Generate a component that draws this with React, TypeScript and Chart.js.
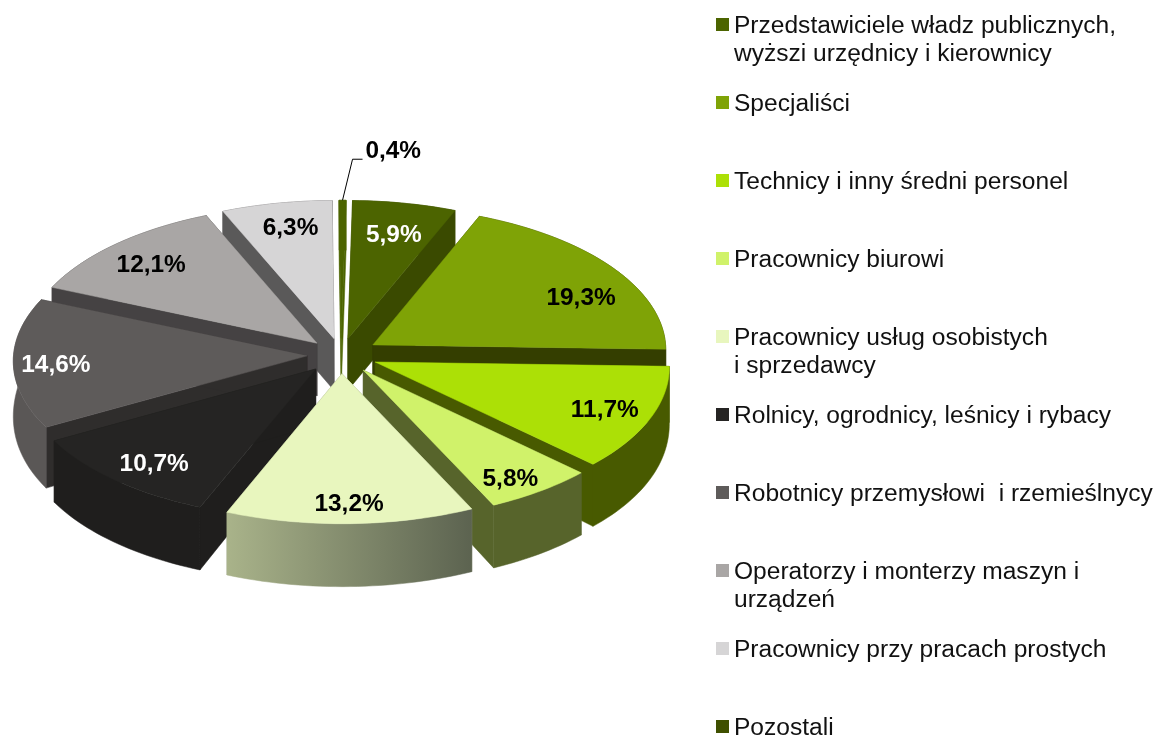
import React, { useEffect, useRef } from "react";
import { Chart, registerables } from "chart.js";

Chart.register(...registerables);

const CATEGORIES: string[][] = [
  ["Przedstawiciele władz publicznych,", "wyższi urzędnicy i kierownicy"],
  ["Specjaliści"],
  ["Technicy i inny średni personel"],
  ["Pracownicy biurowi"],
  ["Pracownicy usług osobistych", "i sprzedawcy"],
  ["Rolnicy, ogrodnicy, leśnicy i rybacy"],
  ["Robotnicy przemysłowi  i rzemieślnycy"],
  ["Operatorzy i monterzy maszyn i", "urządzeń"],
  ["Pracownicy przy pracach prostych"],
  ["Pozostali"],
];
// Clockwise from the top; the last slice (Pozostali) closes the circle.
const VALUES = [5.9, 19.3, 11.7, 5.8, 13.2, 10.7, 14.6, 12.1, 6.3, 0.4];
const TOP_COLORS = ["#4c6400", "#7fa306", "#ace006", "#d0f26a", "#e8f6be", "#252423", "#5e5b5a", "#a9a6a5", "#d6d5d6", "#4c6400"];
const LEGEND_COLORS = ["#4c6400", "#7fa306", "#ace006", "#d0f26a", "#e8f6be", "#252423", "#5e5b5a", "#a9a6a5", "#d6d5d6", "#3f5000"];
const RADIAL_WALLS = ["#3a4a00", "#343e00", "#485a00", "#57642b", "#8a9272", "#1f1e1d", "#2f2d2c", "#454243", "#5a5959", "#4c6400"];
const OUTER_WALLS_LEFT = ["#3a4a00", "#343e00", "#485a00", "#57642b", "#a9b38a", "#1f1e1d", "#5a5756", "#454243", "#5a5959", "#4c6400"];
const OUTER_WALLS_RIGHT = ["#3a4a00", "#343e00", "#485a00", "#57642b", "#5c6350", "#1f1e1d", "#5a5756", "#454243", "#5a5959", "#4c6400"];
const LABEL_COLORS = ["#fff", "#000", "#000", "#000", "#000", "#fff", "#fff", "#000", "#000", "#000"];
const EXPLODE = [34, 38, 37, 38, 38, 38, 34, 34, 34, 34];
const LABEL_NUDGE = [[3, -1], [27, 11], [24, 6], [15, 19], [1, 19], [-12, 12], [-31, 4], [-14, -3], [0, -8], [51, -83]];

const TILT = 0.49;
const PERSPECTIVE = 8900;

function project(cx: number, cy: number, X: number, Y: number) {
  const f = 1 / (1 - Y / PERSPECTIVE);
  return { x: cx + X * f, y: cy + TILT * Y * f };
}
function depthAt(Y: number) {
  return Math.max(50, 63.5 - 11.5 * Math.exp(-(Y + 30) / 120));
}

function poly(ctx: CanvasRenderingContext2D, pts: { x: number; y: number }[], fill: string | CanvasGradient) {
  ctx.beginPath();
  pts.forEach((p, i) => (i ? ctx.lineTo(p.x, p.y) : ctx.moveTo(p.x, p.y)));
  ctx.closePath();
  ctx.fillStyle = fill;
  ctx.fill();
  // seal antialiasing seams between neighbouring facets
  ctx.strokeStyle = fill;
  ctx.lineWidth = 0.5;
  ctx.stroke();
}

const pie3d = {
  id: "pie3d",
  beforeDatasetsDraw(chart: any) {
    const ctx: CanvasRenderingContext2D = chart.ctx;
    const arcs = chart.getDatasetMeta(0).data;
    const order = arcs
      .map((a: any, i: number) => ({ i, key: Math.sin((a.startAngle + a.endAngle) / 2) }))
      .sort((p: any, q: any) => p.key - q.key);
    ctx.save();
    for (const { i } of order) {
      const a = arcs[i];
      const mid = (a.startAngle + a.endAngle) / 2;
      const R = a.outerRadius;
      const ax = EXPLODE[i] * Math.cos(mid);
      const ay = EXPLODE[i] * Math.sin(mid);
      const top = (X: number, Y: number) => project(a.x, a.y, X, Y);
      const bot = (X: number, Y: number) => {
        const p = project(a.x, a.y, X, Y);
        return { x: p.x, y: p.y + depthAt(Y) };
      };
      const steps = Math.max(2, Math.ceil((a.endAngle - a.startAngle) * 40));
      const rim: { X: number; Y: number }[] = [];
      for (let s = 0; s <= steps; s++) {
        const t = a.startAngle + ((a.endAngle - a.startAngle) * s) / steps;
        rim.push({ X: ax + R * Math.cos(t), Y: ay + R * Math.sin(t) });
      }
      const first = rim[0];
      const last = rim[rim.length - 1];
      // radial walls
      poly(ctx, [top(ax, ay), bot(ax, ay), bot(first.X, first.Y), top(first.X, first.Y)], RADIAL_WALLS[i]);
      poly(ctx, [top(ax, ay), bot(ax, ay), bot(last.X, last.Y), top(last.X, last.Y)], RADIAL_WALLS[i]);
      // outer wall
      const upper = rim.map((p) => top(p.X, p.Y));
      const lower = rim.map((p) => bot(p.X, p.Y));
      const xs = upper.map((p) => p.x);
      const g = ctx.createLinearGradient(Math.min(...xs), 0, Math.max(...xs), 0);
      g.addColorStop(0, OUTER_WALLS_LEFT[i]);
      g.addColorStop(1, OUTER_WALLS_RIGHT[i]);
      poly(ctx, [...upper, ...lower.reverse()], g);
      // top face
      poly(ctx, [top(ax, ay), ...upper], TOP_COLORS[i]);
    }
    ctx.restore();
    return false;
  },
  afterDraw(chart: any) {
    const ctx: CanvasRenderingContext2D = chart.ctx;
    const arcs = chart.getDatasetMeta(0).data;
    ctx.save();
    // value labels
    ctx.font = 'bold 24.4px "Liberation Sans"';
    ctx.textAlign = "center";
    ctx.textBaseline = "middle";
    arcs.forEach((a: any, i: number) => {
      const mid = (a.startAngle + a.endAngle) / 2;
      const rad = EXPLODE[i] + a.outerRadius * 0.75;
      const p = project(a.x, a.y, rad * Math.cos(mid), rad * Math.sin(mid));
      ctx.fillStyle = LABEL_COLORS[i];
      ctx.fillText(VALUES[i].toFixed(1).replace(".", ",") + "%", p.x + LABEL_NUDGE[i][0], p.y + LABEL_NUDGE[i][1]);
    });
    // leader of the smallest slice
    const small = arcs[arcs.length - 1];
    const smid = (small.startAngle + small.endAngle) / 2;
    const srad = EXPLODE[EXPLODE.length - 1] + small.outerRadius;
    const tip = project(small.x, small.y, srad * Math.cos(smid), srad * Math.sin(smid));
    ctx.strokeStyle = "#000";
    ctx.lineWidth = 1;
    ctx.beginPath();
    ctx.moveTo(tip.x, tip.y);
    ctx.lineTo(tip.x + 10, tip.y - 41);
    ctx.lineTo(tip.x + 20, tip.y - 41);
    ctx.stroke();
    // legend
    ctx.font = '24.55px "Liberation Sans"';
    ctx.textAlign = "left";
    ctx.textBaseline = "alphabetic";
    CATEGORIES.forEach((lines, i) => {
      const base = 33 + 78 * i;
      ctx.fillStyle = LEGEND_COLORS[i];
      ctx.fillRect(716, base - 15, 13, 13);
      ctx.fillStyle = "#111";
      lines.forEach((l, j) => ctx.fillText(l, 734, base + 28 * j));
    });
    ctx.restore();
  },
};

export default function App() {
  const ref = useRef<HTMLCanvasElement>(null);
  useEffect(() => {
    const chart = new Chart(ref.current!, {
      type: "pie",
      data: {
        labels: CATEGORIES.map((l) => l.join(" ")),
        datasets: [{ data: VALUES, backgroundColor: TOP_COLORS, borderWidth: 0 }],
      },
      options: {
        responsive: false,
        animation: false,
        rotation: 1,
        radius: 293.5,
        events: [],
        layout: { padding: { left: 0, right: 474, top: 0, bottom: 25 } },
        plugins: { legend: { display: false }, tooltip: { enabled: false } },
      } as any,
      plugins: [pie3d as any],
    });
    return () => chart.destroy();
  }, []);
  return (
    <canvas
      ref={ref}
      width={1156}
      height={735}
      style={{ position: "absolute", left: 0, top: 0, width: 1156, height: 735, display: "block", background: "#fff" }}
    />
  );
}
